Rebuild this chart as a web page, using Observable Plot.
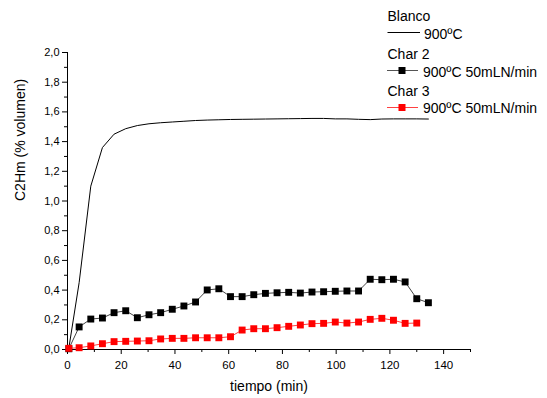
<!DOCTYPE html>
<html><head><meta charset="utf-8">
<script src="https://cdn.jsdelivr.net/npm/d3@7"></script>
<script src="https://cdn.jsdelivr.net/npm/@observablehq/plot@0.6"></script>
<style>
body{margin:0;background:#fff;}
#wrap{position:relative;width:547px;height:398px;font-family:"Liberation Sans",Arial,sans-serif;}
#legend{position:absolute;left:0;top:0;pointer-events:none;}
</style></head><body>
<div id="wrap"></div>
<script>
// tiempo (min)
const tiempo = [0.5, 4.33, 8.67, 13, 17.33, 21.67, 26, 30.33, 34.67, 39, 43.33, 47.67, 52, 56.33, 60.67, 65, 69.33, 73.67, 78, 82.33, 86.67, 91, 95.33, 99.67, 104, 108.33, 112.67, 117, 121.33, 125.67, 130, 134.33];
// Blanco 900ºC
const blanco = [0.01, 0.45, 1.10, 1.36, 1.45, 1.487, 1.508, 1.52, 1.527, 1.532, 1.537, 1.542, 1.545, 1.547, 1.549, 1.55, 1.551, 1.552, 1.553, 1.554, 1.555, 1.556, 1.556, 1.553, 1.553, 1.55, 1.548, 1.552, 1.553, 1.553, 1.553, 1.552];
// Char 2 900ºC 50mLN/min
const char2 = [0.005, 0.152, 0.205, 0.212, 0.248, 0.261, 0.214, 0.234, 0.248, 0.271, 0.293, 0.320, 0.401, 0.409, 0.356, 0.356, 0.369, 0.378, 0.382, 0.385, 0.380, 0.387, 0.389, 0.392, 0.394, 0.394, 0.473, 0.470, 0.473, 0.455, 0.342, 0.315];
// Char 3 900ºC 50mLN/min
const char3 = [0.008, 0.012, 0.024, 0.039, 0.053, 0.055, 0.057, 0.059, 0.071, 0.075, 0.075, 0.079, 0.079, 0.079, 0.086, 0.131, 0.140, 0.140, 0.147, 0.156, 0.165, 0.174, 0.176, 0.185, 0.178, 0.185, 0.203, 0.210, 0.197, 0.176, 0.178];

const xMajor = [0, 20, 40, 60, 80, 100, 120, 140];
const xMinor = [10, 30, 50, 70, 90, 110, 130, 150];
const yMajor = [0, 0.2, 0.4, 0.6, 0.8, 1.0, 1.2, 1.4, 1.6, 1.8, 2.0];
const yMinor = [0.1, 0.3, 0.5, 0.7, 0.9, 1.1, 1.3, 1.5, 1.7, 1.9];

const toRows = (vals) => vals.map((v, i) => ({t: tiempo[i], v}));
const dBlanco = toRows(blanco);
const dChar2 = toRows(char2);
const dChar3 = toRows(char3);

const chart = Plot.plot({
  width: 547,
  height: 398,
  marginLeft: 67,
  marginRight: 77,
  marginTop: 52,
  marginBottom: 49,
  x: {domain: [0, 150]},
  y: {domain: [0, 2]},
  style: {fontFamily: '"Liberation Sans", Arial, sans-serif', fontSize: "11px", color: "#000", background: "#fff"},
  marks: [
    Plot.axisX(xMajor, {tickSize: 5, tickPadding: 6, tickFormat: d => String(d), label: null, fontSize: 11.5}),
    Plot.axisX(xMinor, {tickSize: 3, tickFormat: () => "", label: null}),
    Plot.axisY(yMajor, {tickSize: 5, tickPadding: 3, tickFormat: d => d.toFixed(1).replace(".", ","), label: null, fontSize: 11}),
    Plot.axisY(yMinor, {tickSize: 3, tickFormat: () => "", label: null}),
    Plot.ruleX([0], {stroke: "#000"}),
    Plot.ruleY([0], {stroke: "#000"}),
    Plot.text(["tiempo (min)"], {frameAnchor: "bottom", dy: 41, fontSize: 14}),
    Plot.text(["C2Hm (% volumen)"], {frameAnchor: "left", dx: -47, rotate: -90, fontSize: 14}),
    Plot.line(dBlanco, {x: "t", y: "v", stroke: "#000", strokeWidth: 1}),
    Plot.line(dChar2, {x: "t", y: "v", stroke: "#444", strokeWidth: 1}),
    Plot.dot(dChar2, {x: "t", y: "v", symbol: "square", r: 3.9, fill: "#000", stroke: "none"}),
    Plot.line(dChar3, {x: "t", y: "v", stroke: "#ff4040", strokeWidth: 1}),
    Plot.dot(dChar3, {x: "t", y: "v", symbol: "square", r: 3.9, fill: "#ff0000", stroke: "none"})
  ]
});
const wrap = document.getElementById("wrap");
wrap.appendChild(chart);

// Legend (top right)
const legend = `
<svg id="legend" width="547" height="130" xmlns="http://www.w3.org/2000/svg" font-family='"Liberation Sans", Arial, sans-serif' font-size="14">
  <text x="387.5" y="21">Blanco</text>
  <line x1="387.5" x2="420" y1="32.5" y2="32.5" stroke="#000" stroke-width="1"/>
  <text x="424" y="38.5">900ºC</text>
  <text x="387.5" y="59">Char 2</text>
  <line x1="387" x2="418" y1="70.5" y2="70.5" stroke="#555" stroke-width="1"/>
  <rect x="398.5" y="67" width="7" height="7" fill="#000"/>
  <text x="423" y="76.5">900ºC 50mLN/min</text>
  <text x="387.5" y="96">Char 3</text>
  <line x1="387" x2="418" y1="107.5" y2="107.5" stroke="#ff4040" stroke-width="1"/>
  <rect x="398.5" y="104" width="7" height="7" fill="#ff0000"/>
  <text x="423" y="113">900ºC 50mLN/min</text>
</svg>`;
wrap.insertAdjacentHTML("beforeend", legend);
</script>
</body></html>
